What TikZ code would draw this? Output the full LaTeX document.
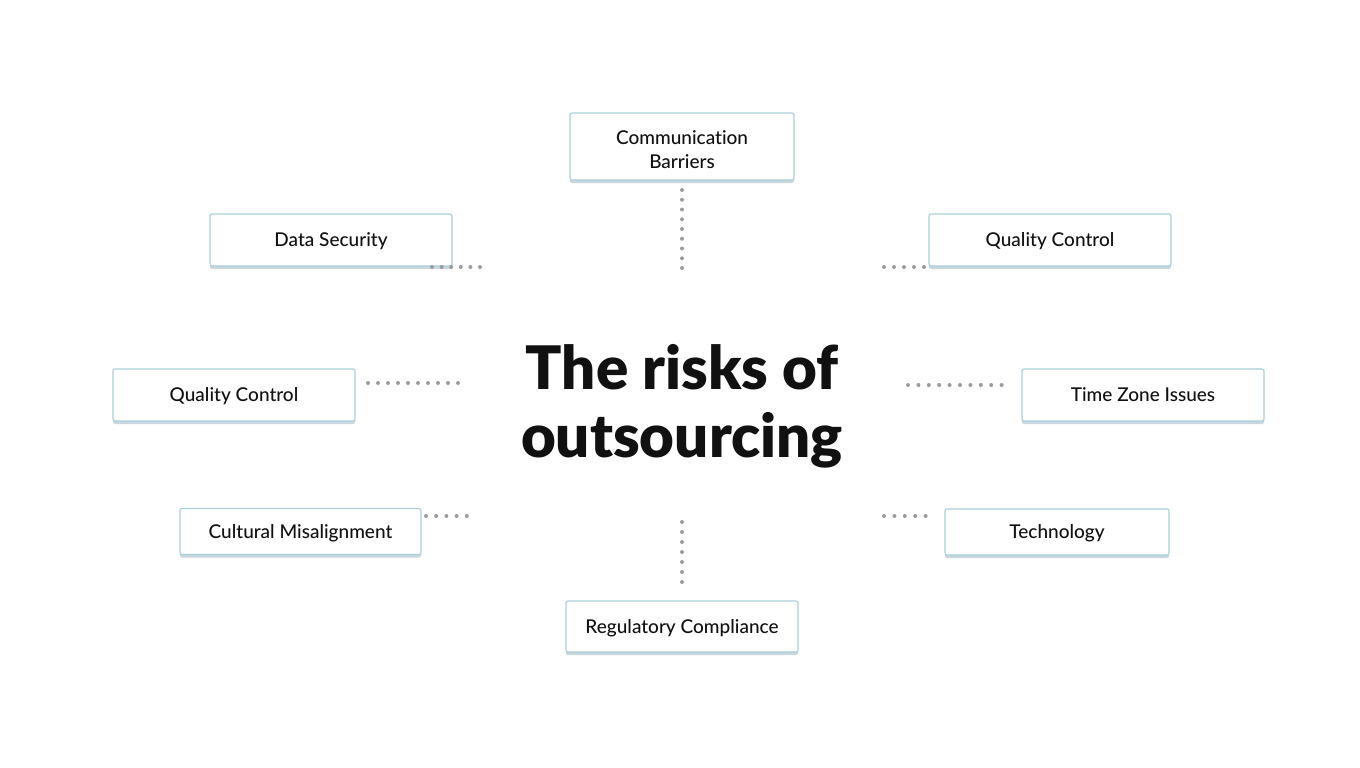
\documentclass[tikz,border=0pt]{standalone}
\usepackage{fontspec}
\IfFontExistsTF{Lato Medium}
  {\setmainfont{Lato Medium}[Ligatures=CommonOff]}
  {\setmainfont{Lato}[Ligatures=CommonOff]}
\IfFontExistsTF{Lato Black}
  {\newfontfamily\titlefont{Lato Black}[Ligatures=CommonOff]}
  {\newfontfamily\titlefont{Lato}[UprightFont=*-Bold, FakeBold=1.5, Ligatures=CommonOff]}
\usetikzlibrary{shadows}
\definecolor{boxline}{HTML}{A9CFD9}
\definecolor{boxshadow}{HTML}{C8D8DE}
\definecolor{dotgray}{HTML}{9A9CA0}
\definecolor{ink}{HTML}{111111}
\begin{document}
\begin{tikzpicture}[x=1pt,y=-1pt,
  riskbox/.style={draw=boxline, line width=1.1pt, fill=white, rounded corners=2pt,
    text=ink, font=\fontsize{19}{24}\selectfont, align=center, inner sep=0pt,
    text height=13.5pt, text depth=0pt,
    drop shadow={shadow xshift=0pt, shadow yshift=-3pt, fill=boxshadow, opacity=1}},
  dotline/.style={dotgray, line width=4pt, line cap=round, dash pattern=on 0pt off 10pt}
]
\useasboundingbox[fill=white] (0,0) rectangle (1360,768);

% boxes
\node[riskbox, text height=0pt, text depth=0pt, minimum width=224pt, minimum height=67pt] (comm) at (682,146.5)
  {\raisebox{2.2pt}[0pt][0pt]{\begin{tabular}[t]{@{}c@{}}Communication\\Barriers\end{tabular}}};
\node[riskbox, minimum width=242pt, minimum height=52pt] (ds) at (331,240) {Data Security};
\node[riskbox, minimum width=242pt, minimum height=52pt] (qcr) at (1050,240) {Quality Control};
\node[riskbox, minimum width=242pt, minimum height=52pt] (qcl) at (234,395) {Quality Control};
\node[riskbox, minimum width=242pt, minimum height=52pt] (tz) at (1143,395) {Time Zone Issues};
\node[riskbox, minimum width=241pt, minimum height=46pt] (cm) at (300.5,531.5) {Cultural Misalignment};
\node[riskbox, minimum width=224pt, minimum height=46pt] (tech) at (1057,532) {Technology};
\node[riskbox, minimum width=232pt, minimum height=51pt] (rc) at (682,626.5) {Regulatory Compliance};

% title
\node[text=ink, font=\fontsize{60}{68}\selectfont\titlefont, align=center, inner sep=0pt] (title) at (682,406) {The risks of\\outsourcing};

% dotted connectors
\coordinate (c1a) at (682,190); \coordinate (c1b) at (682,271);
\coordinate (c2a) at (432,267); \coordinate (c2b) at (483,267);
\coordinate (c3a) at (884,267); \coordinate (c3b) at (925,267);
\coordinate (c4a) at (368,383); \coordinate (c4b) at (459,383);
\coordinate (c5a) at (908,385); \coordinate (c5b) at (1003,385);
\coordinate (c6a) at (426,516); \coordinate (c6b) at (468,516);
\coordinate (c7a) at (884,516); \coordinate (c7b) at (927,516);
\coordinate (c8a) at (682,522); \coordinate (c8b) at (682,583);
\draw[dotline, dash pattern=on 0pt off 9.75pt] (c1a) -- (c1b);
\draw[dotline, dash pattern=on 0pt off 9.6pt] (c2a) -- (c2b);
\draw[dotline] (c3a) -- (c3b);
\draw[dotline] (c4a) -- (c4b);
\draw[dotline, dash pattern=on 0pt off 10.4pt] (c5a) -- (c5b);
\draw[dotline, dash pattern=on 0pt off 10.2pt] (c6a) -- (c6b);
\draw[dotline, dash pattern=on 0pt off 10.4pt] (c7a) -- (c7b);
\draw[dotline, dash pattern=on 0pt off 10pt] (c8a) -- (c8b);
\end{tikzpicture}
\end{document}
